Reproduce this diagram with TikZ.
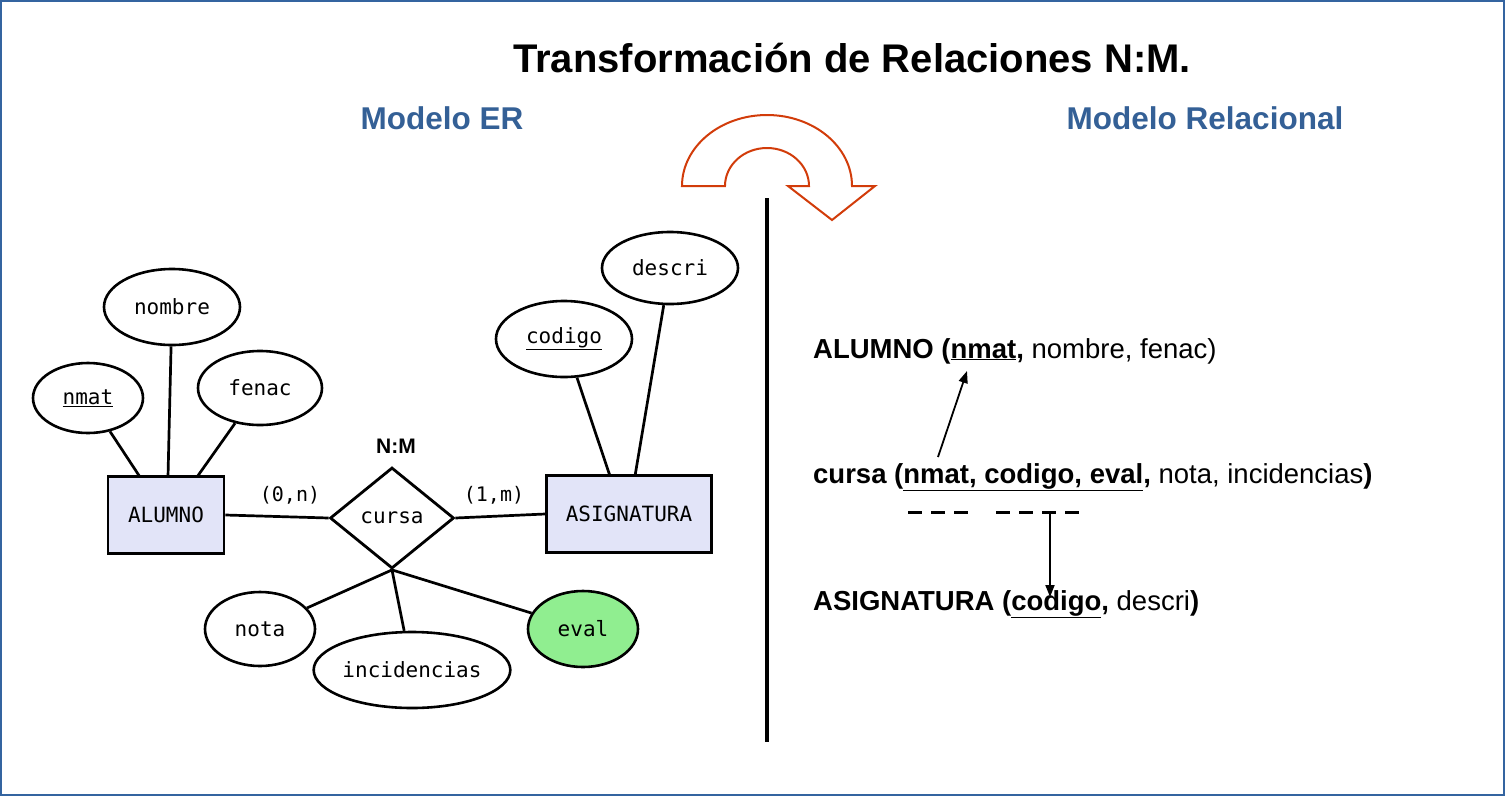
\documentclass[tikz,border=0pt]{standalone}
\usepackage{fontspec}
\setmainfont{Liberation Sans}
\newfontfamily\ermono{DejaVu Sans Mono}
\usetikzlibrary{shapes.geometric,arrows.meta}
\definecolor{frameblue}{RGB}{52,100,160}
\definecolor{headblue}{RGB}{52,96,150}
\definecolor{lav}{RGB}{226,228,248}
\definecolor{lgreen}{RGB}{144,238,144}
\definecolor{arroworange}{RGB}{210,60,10}
\newcommand{\ul}[1]{\underline{#1}}
\tikzset{
 attr/.style={ellipse,draw,line width=2.6pt,fill=white,inner sep=0pt,font=\ermono\fontsize{21}{23}\selectfont},
 ent/.style={rectangle,draw,line width=2.8pt,fill=lav,inner sep=0pt,font=\ermono\fontsize{21}{23}\selectfont},
 rel/.style={diamond,draw,line width=2.8pt,fill=white,inner sep=0pt,minimum width=124pt,minimum height=101pt,font=\ermono\fontsize{21}{23}\selectfont},
 lnk/.style={line width=2.7pt},
 card/.style={font=\ermono\fontsize{20}{22}\selectfont},
 rtext/.style={anchor=base west,inner sep=0pt,font=\fontsize{27.5}{30}\selectfont},
 head/.style={text=headblue,font=\bfseries\fontsize{31.5}{35}\selectfont},
}
\begin{document}
\begin{tikzpicture}[x=1pt,y=-1pt]
\useasboundingbox (0,0) rectangle (1505,796);
\draw[frameblue,line width=2pt] (1,1) rectangle (1504,795);
\node[font=\bfseries\fontsize{40}{44}\selectfont] (title) at (852,58) {Transformación de Relaciones N:M.};
\node[head] (h1) at (442,118) {Modelo ER};
\node[head] (h2) at (1205,118) {Modelo Relacional};
% curved arrow
\draw[arroworange,line width=2pt,fill=white] (682,186) arc[start angle=180,end angle=0,x radius=85,y radius=-71] -- (875,186) -- (832,220) -- (788,186) -- (809,186) arc[start angle=0,end angle=180,x radius=42,y radius=-38] -- cycle;
% divider
\coordinate (vt) at (767,198); \coordinate (vb) at (767,742);
\draw[line width=4pt] (vt) -- (vb);
% ER
\node[ent,minimum width=116pt,minimum height=77pt] (alumno) at (166,515) {ALUMNO};
\node[ent,minimum width=165pt,minimum height=77pt] (asig) at (629,514) {ASIGNATURA};
\node[rel] (cursa) at (392,518) {cursa};
\node[font=\bfseries\fontsize{21}{23}\selectfont] (nm) at (396,446) {N:M};
\node[card] (c1) at (290,495) {(0,n)};
\node[card] (c2) at (494,495) {(1,m)};
\coordinate (a1) at (140,477); \coordinate (a2) at (168,477); \coordinate (a3) at (197,477);
\coordinate (s1) at (610,476); \coordinate (s2) at (635,476);
\draw[lnk] (cursa.west) -- (alumno.east);
\draw[lnk] (cursa.east) -- (asig.west);
\node[attr,minimum width=136pt,minimum height=76pt] (nombre) at (172,307) {nombre};
\node[attr,minimum width=110pt,minimum height=70pt] (nmat) at (88,398) {\ul{nmat}};
\node[attr,minimum width=124pt,minimum height=74pt] (fenac) at (260,388) {fenac};
\node[attr,minimum width=136pt,minimum height=76pt] (codigo) at (564,339) {\ul{codigo}};
\node[attr,minimum width=136pt,minimum height=72pt] (descri) at (670,268) {descri};
\node[attr,minimum width=110pt,minimum height=74pt] (nota) at (260,629) {nota};
\node[attr,minimum width=194pt,minimum height=76pt] (inc) at (412,670) {incidencias};
\node[attr,fill=lgreen,minimum width=110pt,minimum height=76pt] (eval) at (583,629) {eval};
\draw[lnk] (nmat) -- (a1);
\draw[lnk] (nombre) -- (a2);
\draw[lnk] (fenac) -- (a3);
\draw[lnk] (codigo) -- (s1);
\draw[lnk] (descri) -- (s2);
\draw[lnk] (cursa.south) -- (nota);
\draw[lnk] (cursa.south) -- (inc);
\draw[lnk] (cursa.south) -- (eval);
% relational
\node[rtext] (r1) at (813,358) {\textbf{ALUMNO (\ul{nmat},} nombre, fenac)};
\node[rtext] (r2) at (813,483) {\textbf{cursa (\ul{nmat, codigo, eval},} nota, incidencias\textbf{)}};
\node[rtext] (r3) at (813,610) {\textbf{ASIGNATURA (\ul{codigo},} descri\textbf{)}};
\coordinate (p1) at (938,457); \coordinate (p2) at (967,371);
\draw[line width=1.8pt,-{Triangle[length=12pt,width=9pt]}] (p1) -- (p2);
\coordinate (d1) at (908,512); \coordinate (d2) at (968,512);
\coordinate (d3) at (996,512); \coordinate (d4) at (1082,512);
\draw[line width=3pt,dash pattern=on 14pt off 9pt] (d1) -- (d2);
\draw[line width=3pt,dash pattern=on 14pt off 9pt] (d3) -- (d4);
\coordinate (q1) at (1050,512); \coordinate (q2) at (1050,597);
\draw[line width=1.8pt,-{Triangle[length=12pt,width=9pt]}] (q1) -- (q2);
\end{tikzpicture}
\end{document}
